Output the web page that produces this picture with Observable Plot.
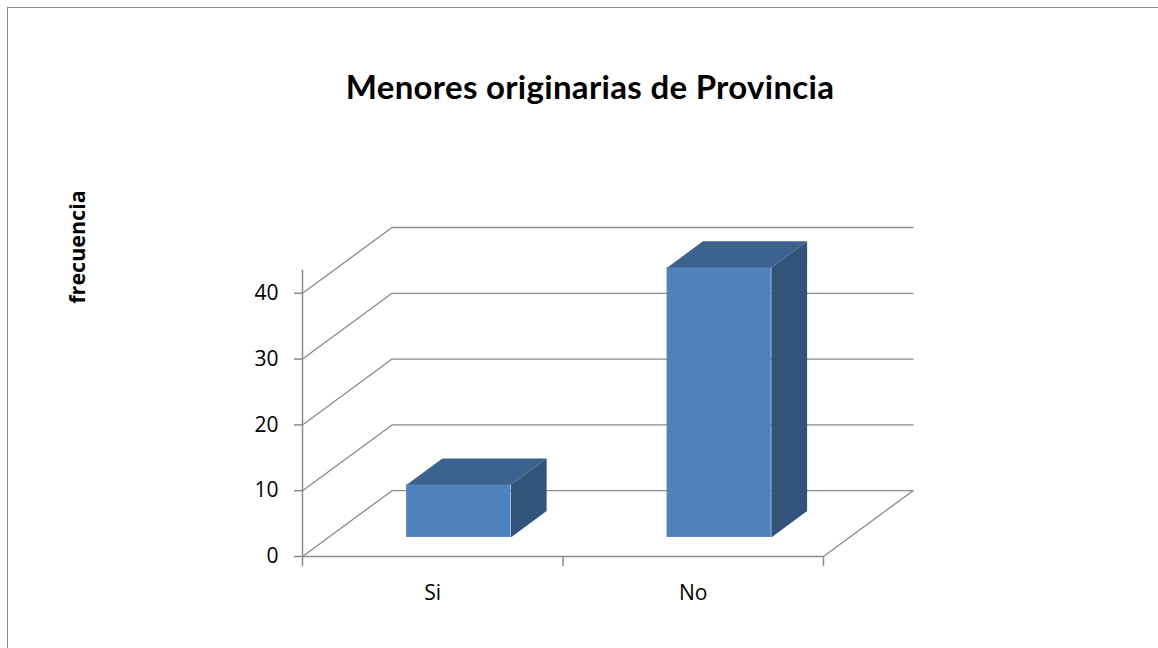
<!DOCTYPE html>
<html>
<head>
<meta charset="utf-8">
<script src="https://cdn.jsdelivr.net/npm/d3@7"></script>
<script src="https://cdn.jsdelivr.net/npm/@observablehq/plot@0.6"></script>
<style>
  html, body { margin: 0; padding: 0; background: #fff; }
  #wrap { position: relative; width: 1158px; height: 648px; overflow: hidden; background: #fff; }
  #border { position: absolute; left: 7px; top: 7px; right: -5px; bottom: -5px; border-left: 1px solid #8a8a8a; border-top: 1px solid #8a8a8a; }
  #titlebox { position: relative; height: 130px; }
  #title { position: absolute; left: 0; width: 1180px; top: 66px; text-align: center; font-family: Lato, "Open Sans", sans-serif; font-weight: 700; font-size: 33px; letter-spacing: 0.3px; color: #000; }
  #ylabel { position: absolute; left: 76px; top: 247px; transform: translate(-50%, -50%) rotate(-90deg); font-family: "Open Sans", sans-serif; font-weight: 700; font-size: 21.5px; white-space: nowrap; color: #000; }
  #chart svg { display: block; overflow: visible; }
  #chart svg text { font-size: 21px; font-family: "Open Sans", sans-serif; fill: #000; }
</style>
</head>
<body>
<div id="wrap">
  <div id="border"></div>
  <div id="titlebox"><div id="title">Menores originarias de Provincia</div></div>
  <div id="ylabel">frecuencia</div>
  <div id="chart"></div>
</div>
<script>
// ---- data ----
const categories = ["Si", "No"];
const values = [8, 41];
const yTicks = [0, 10, 20, 30, 40];

// ---- 3D projection parameters (in data units) ----
const n = categories.length;
const DEPTH_X = 0.3436;   // horizontal shift of the back wall, in category units
const DEPTH_Y = 10;       // vertical shift of the back wall, in value units
const F1 = 0.29, F2 = 0.69; // bar depth range (fraction of floor depth)
const BAR_L = 0.3, BAR_R = 0.7; // bar span within category band
const AXIS_TOP = 43.5;

const gridData = yTicks.flatMap(t => [
  {t, x: 0, y: t},
  {t, x: DEPTH_X, y: t + DEPTH_Y},
  {t, x: n + DEPTH_X, y: t + DEPTH_Y}
]);
const floorData = [
  {x: 0, y: 0}, {x: n, y: 0}, {x: n + DEPTH_X, y: DEPTH_Y}
];

const bars = categories.map((c, i) => ({
  c, v: values[i],
  l: i + BAR_L, r: i + BAR_R
}));
const fronts = bars.map(b => ({
  c: b.c,
  x1: b.l + DEPTH_X * F1, x2: b.r + DEPTH_X * F1,
  y1: DEPTH_Y * F1, y2: b.v + DEPTH_Y * F1
}));
const tops = bars.flatMap(b => [
  {c: b.c, x: b.l + DEPTH_X * F1, y: b.v + DEPTH_Y * F1},
  {c: b.c, x: b.l + DEPTH_X * F2, y: b.v + DEPTH_Y * F2},
  {c: b.c, x: b.r + DEPTH_X * F2, y: b.v + DEPTH_Y * F2},
  {c: b.c, x: b.r + DEPTH_X * F1, y: b.v + DEPTH_Y * F1}
]);
const sides = bars.flatMap(b => [
  {c: b.c, x: b.r + DEPTH_X * F1, y: DEPTH_Y * F1},
  {c: b.c, x: b.r + DEPTH_X * F1, y: b.v + DEPTH_Y * F1},
  {c: b.c, x: b.r + DEPTH_X * F2, y: b.v + DEPTH_Y * F2},
  {c: b.c, x: b.r + DEPTH_X * F2, y: DEPTH_Y * F2}
]);

const gridColor = "#8a8a8a";

const chart = Plot.plot({
  width: 1158,
  height: 518,
  marginLeft: 302,
  marginRight: 245.5,
  marginTop: 97,
  marginBottom: 92,
  x: {domain: [0, n + DEPTH_X], axis: null},
  y: {domain: [0, 50], axis: null},
  style: {fontFamily: "'Open Sans', sans-serif", fontSize: "21px", color: "#000", background: "transparent", overflow: "visible"},
  marks: [
    Plot.line(gridData, {x: "x", y: "y", z: "t", stroke: gridColor, strokeWidth: 1.3}),
    Plot.line(floorData, {x: "x", y: "y", stroke: gridColor, strokeWidth: 1.3}),
    Plot.ruleX([0], {y1: 0, y2: AXIS_TOP, stroke: gridColor, strokeWidth: 1.5}),
    Plot.axisY(yTicks, {anchor: "left", tickSize: 8, tickPadding: 16, stroke: gridColor, strokeWidth: 1.5, fontSize: 21, label: null}),
    Plot.axisX(d3.range(n + 1), {anchor: "bottom", tickSize: 10, tickFormat: () => "", stroke: gridColor, strokeWidth: 1.5, label: null}),
    Plot.axisX(d3.range(n).map(i => i + 0.5), {anchor: "bottom", tickSize: 0, tickPadding: 29, tickFormat: d => categories[Math.floor(d)], fontSize: 21, label: null}),
    Plot.rect(fronts, {x1: "x1", x2: "x2", y1: "y1", y2: "y2", fill: "#4F81BD"}),
    Plot.line(tops, {x: "x", y: "y", z: "c", fill: "#3C638F", stroke: "none"}),
    Plot.line(sides, {x: "x", y: "y", z: "c", fill: "#32537A", stroke: "none"})
  ]
});
document.getElementById("chart").appendChild(chart);
</script>
</body>
</html>
